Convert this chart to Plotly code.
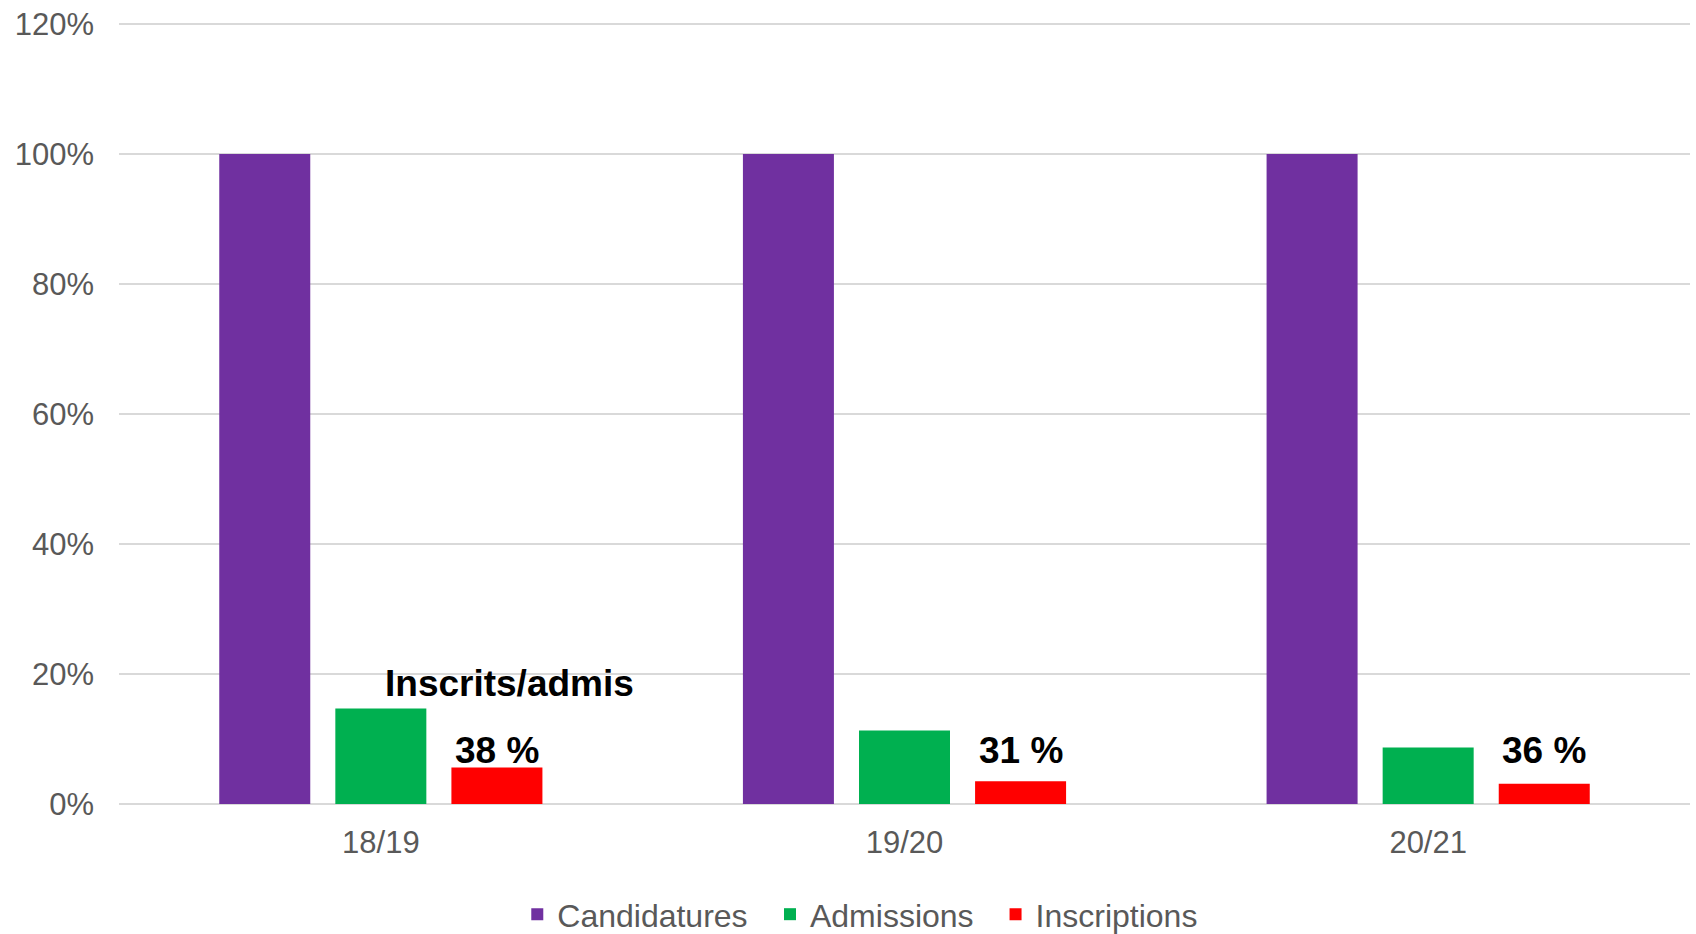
import plotly.graph_objects as go

categories = ["18/19", "19/20", "20/21"]
candidatures = [1.00, 1.00, 1.00]
admissions = [0.147, 0.113, 0.087]
inscriptions = [0.056, 0.035, 0.031]
ratio_labels = ["38 %", "31 %", "36 %"]
series_names = ["Candidatures", "Admissions", "Inscriptions"]
series_colors = ["#7030A0", "#00B050", "#FF0000"]
y_ticks = [0, 0.2, 0.4, 0.6, 0.8, 1.0, 1.2]

BARGAP = 0.335
BARGROUPGAP = 0.216
FONT = "Arial, Liberation Sans, sans-serif"
legend_ids = ["legend", "legend2", "legend3"]
legend_x = [0.305, 0.454, 0.587]

fig = go.Figure()
for name, vals, col, lg in zip(series_names, [candidatures, admissions, inscriptions], series_colors, legend_ids):
    fig.add_trace(go.Bar(name=name, x=categories, y=vals, marker=dict(color=col, line=dict(width=0)),
                         hoverinfo="skip", legend=lg))

slot = (1 - BARGAP) / 3
for i, lab in enumerate(ratio_labels):
    fig.add_annotation(x=i + slot, y=0.083, xref="x", yref="y", text=f"<b>{lab}</b>",
                       showarrow=False, font=dict(family=FONT, size=37, color="#000000"),
                       xanchor="center", yanchor="middle")
fig.add_annotation(x=0.245, y=0.186, xref="x", yref="y", text="<b>Inscrits/admis</b>",
                   showarrow=False, font=dict(family=FONT, size=37, color="#000000"),
                   xanchor="center", yanchor="middle")

legend_common = dict(orientation="h", xref="container", yref="container", xanchor="left",
                     y=0.021, yanchor="middle", itemwidth=30, bgcolor="rgba(0,0,0,0)",
                     font=dict(family=FONT, size=32, color="#595959"))
layout_legends = {lg: dict(x=lx, **legend_common) for lg, lx in zip(legend_ids, legend_x)}

fig.update_layout(
    width=1696, height=934,
    margin=dict(l=119, r=6, t=22, b=130, autoexpand=False),
    paper_bgcolor="white", plot_bgcolor="white",
    barmode="group", bargap=BARGAP, bargroupgap=BARGROUPGAP,
    font=dict(family=FONT, color="#595959"),
    showlegend=True,
    xaxis=dict(type="category", showgrid=False, showline=False, ticks="", automargin=False,
               tickfont=dict(family=FONT, size=31, color="#595959"), ticklabelstandoff=17),
    yaxis=dict(range=[0, 1.203], tickvals=y_ticks, tickformat=".0%", showgrid=True,
               gridcolor="#D9D9D9", gridwidth=2, zeroline=True, zerolinecolor="#D9D9D9",
               zerolinewidth=2, showline=False, ticks="", automargin=False,
               tickfont=dict(family=FONT, size=31, color="#595959"), ticklabelstandoff=24),
    **layout_legends,
)

fig.write_html("out.html", config={"displayModeBar": False},
               post_script="document.body.style.margin='0px';document.body.style.overflow='hidden';")
